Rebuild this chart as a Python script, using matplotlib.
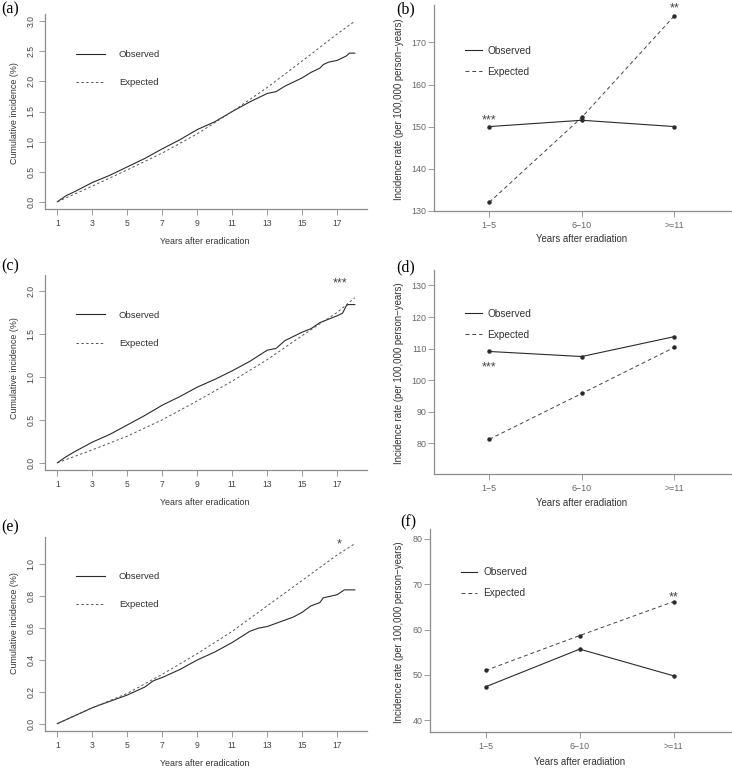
import matplotlib.pyplot as plt
from matplotlib.ticker import FormatStrFormatter

plt.rcParams['font.family'] = ['Liberation Sans', 'DejaVu Sans']

# Cumulative incidence (%), panel (a)
a_obs_years = [1, 1.5, 2, 3, 4, 5, 6, 7, 8, 9, 10, 11, 12, 13, 13.5, 14, 15, 15.5, 16, 16.2, 16.5, 17, 17.5, 17.7, 18]
a_obs = [0, 0.10, 0.17, 0.32, 0.44, 0.58, 0.72, 0.88, 1.03, 1.20, 1.33, 1.50, 1.66, 1.80, 1.83, 1.92, 2.06, 2.15, 2.22, 2.28, 2.32, 2.35, 2.42, 2.47, 2.47]
a_exp_years = [1, 3, 5, 7, 9, 11, 13, 15, 17, 18]
a_exp = [0, 0.26, 0.53, 0.81, 1.13, 1.50, 1.90, 2.34, 2.79, 3.00]

# panel (c)
c_obs_years = [1, 1.5, 2, 3, 4, 5, 6, 7, 8, 9, 10, 11, 12, 13, 13.5, 14, 15, 15.5, 16, 16.5, 17, 17.3, 17.5, 17.6, 18]
c_obs = [0, 0.07, 0.13, 0.24, 0.33, 0.44, 0.55, 0.67, 0.77, 0.88, 0.97, 1.07, 1.18, 1.31, 1.33, 1.42, 1.52, 1.56, 1.63, 1.67, 1.71, 1.74, 1.82, 1.84, 1.84]
c_exp_years = [1, 3, 5, 7, 9, 11, 13, 15, 17, 18]
c_exp = [0, 0.15, 0.31, 0.50, 0.72, 0.95, 1.20, 1.48, 1.75, 1.92]

# panel (e)
e_obs_years = [1, 2, 3, 4, 5, 6, 6.5, 7, 8, 9, 10, 11, 12, 12.5, 13, 14, 14.5, 15, 15.5, 16, 16.2, 16.6, 17, 17.4, 18]
e_obs = [0, 0.05, 0.10, 0.14, 0.18, 0.23, 0.27, 0.29, 0.34, 0.40, 0.45, 0.51, 0.58, 0.60, 0.61, 0.65, 0.67, 0.70, 0.74, 0.76, 0.79, 0.80, 0.81, 0.84, 0.84]
e_exp_years = [1, 3, 5, 7, 9, 11, 13, 15, 17, 18]
e_exp = [0, 0.10, 0.19, 0.31, 0.44, 0.58, 0.74, 0.90, 1.06, 1.13]

# Incidence rate per 100,000 person-years, panels (b), (d), (f)
periods = ['1\u22125', '6\u221210', '>=11']
b_obs = [150.0, 151.5, 150.0]
b_exp = [132.0, 152.2, 176.3]
d_obs = [109.1, 107.5, 113.8]
d_exp = [81.3, 95.8, 110.4]
f_obs = [47.4, 55.7, 49.8]
f_exp = [51.0, 58.7, 66.2]

W, H = 732, 769
fig = plt.figure(figsize=(W / 100, H / 100), dpi=100)

AXC = '#8c8c8c'
TXT = '#333333'


def fx(px):
    return px / W


def fy(py):
    return 1 - py / H


def add_panel(left, top, right, bottom):
    ax = fig.add_axes([fx(left), fy(bottom), (right - left) / W, (bottom - top) / H])
    for s in ['top', 'right']:
        ax.spines[s].set_visible(False)
    for s in ['left', 'bottom']:
        ax.spines[s].set_color(AXC)
        ax.spines[s].set_linewidth(0.9)
    ax.patch.set_alpha(0)
    return ax


def cum_panel(box, letter, obs_x, obs_y, exp_x, exp_y, ylim, yticks,
              leg_top, star, star_xy, ylab_y, xlab_y):
    l, t, r, b = box
    ax = add_panel(l, t, r, b)
    ax.plot(obs_x, obs_y, color='#2b2b2b', lw=0.8, label='Observed')
    ax.plot(exp_x, exp_y, color='#555555', lw=0.7, ls=(0, (2.5, 2.5)), label='Expected')
    ax.set_xlim(0.32, 18.68)
    ax.set_ylim(*ylim)
    ax.set_xticks(range(1, 18, 2))
    ax.set_yticks(yticks)
    ax.yaxis.set_major_formatter(FormatStrFormatter('%.1f'))
    ax.tick_params(direction='out', length=4, width=0.6, color=AXC,
                   labelsize=6.2, labelcolor='#444444')
    ax.tick_params(axis='x', pad=3.0)
    ax.tick_params(axis='y', pad=3.0)
    for lab in ax.get_yticklabels():
        lab.set_rotation(90)
        lab.set_va('center')
    ax.set_xlabel('Years after eradication', fontsize=6.4, color=TXT, va='center')
    ax.set_ylabel('Cumulative incidence (%)', fontsize=6.4, color=TXT, va='center')
    ax.xaxis.set_label_coords(fx(205), fy(xlab_y), transform=fig.transFigure)
    ax.yaxis.set_label_coords(fx(14.3), fy(ylab_y), transform=fig.transFigure)
    ax.legend(loc='upper left', bbox_to_anchor=(fx(76), fy(leg_top)),
              bbox_transform=fig.transFigure, frameon=False, fontsize=6.8,
              handlelength=3.07, handletextpad=1.48, labelspacing=2.05,
              borderpad=0, borderaxespad=0, labelcolor=TXT)
    if star:
        ax.text(star_xy[0], star_xy[1], star, fontsize=9, color='#444444',
                ha='center', va='baseline', clip_on=False)
    fig.text(fx(1.5), fy(letter[1]), letter[0], family='Liberation Serif',
             fontsize=11.5, ha='left', va='center')
    return ax


def rate_panel(box, letter, obs, exp, ylim, yticks, xlim, leg_x, leg_top,
               stars, ylab_y, xlab):
    l, t, r, b = box
    ax = add_panel(l, t, r, b)
    x = [1, 2, 3]
    ax.plot(x, obs, color='#2b2b2b', lw=0.8, label='Observed')
    ax.plot(x, exp, color='#444444', lw=0.7, ls=(0, (4, 3)), label='Expected')
    ax.plot(x, obs, ls='none', marker='o', ms=2.2, color='#2b2b2b')
    ax.plot(x, exp, ls='none', marker='o', ms=2.2, color='#2b2b2b')
    ax.set_xlim(*xlim)
    ax.set_ylim(*ylim)
    ax.set_xticks(x)
    ax.set_xticklabels(periods)
    ax.set_yticks(yticks)
    ax.tick_params(direction='out', length=4, width=0.6, color=AXC,
                   labelsize=6.4, labelcolor='#666666')
    ax.tick_params(axis='x', pad=3.2)
    ax.tick_params(axis='y', pad=1.5)
    ax.set_xlabel('Years after eradiation', fontsize=6.9, color=TXT, va='center')
    ax.set_ylabel('Incidence rate (per 100,000 person\u2212years)', fontsize=6.9,
                  color=TXT, va='center')
    ax.xaxis.set_label_coords(fx(xlab[0]), fy(xlab[1]), transform=fig.transFigure)
    ax.yaxis.set_label_coords(fx(399.3), fy(ylab_y), transform=fig.transFigure)
    ax.legend(loc='upper left', bbox_to_anchor=(fx(leg_x), fy(leg_top)),
              bbox_transform=fig.transFigure, frameon=False, fontsize=7.3,
              handlelength=1.65, handletextpad=0.55, labelspacing=1.08,
              borderpad=0, borderaxespad=0, labelcolor=TXT)
    for s, sx, sy in stars:
        ax.text(sx, sy, s, fontsize=9, color='#444444', ha='center',
                va='baseline', clip_on=False)
    fig.text(fx(letter[1]), fy(letter[2]), letter[0], family='Liberation Serif',
             fontsize=11.5, ha='left', va='center')
    return ax


cum_panel((45.4, 14, 366.7, 209), ('(a)', 9), a_obs_years, a_obs, a_exp_years, a_exp,
          (-0.12, 3.12), [0, 0.5, 1.0, 1.5, 2.0, 2.5, 3.0], 50.0, None, None, 113, 242)
cum_panel((45.4, 275, 366.7, 470), ('(c)', 266), c_obs_years, c_obs, c_exp_years, c_exp,
          (-0.084, 2.184), [0, 0.5, 1.0, 1.5, 2.0], 310.5, '***', (17.15, 2.05), 368, 502.3)
cum_panel((45.4, 537, 366.7, 731), ('(e)', 527.5), e_obs_years, e_obs, e_exp_years, e_exp,
          (-0.046, 1.172), [0, 0.2, 0.4, 0.6, 0.8, 1.0], 572.0, '*', (17.11, 1.105), 623, 763.3)

rate_panel((434.3, 5, 732, 210.7), ('(b)', 396.7, 9.7), b_obs, b_exp, (130, 178.9),
           [130, 140, 150, 160, 170], (0.405, 3.624), 465, 45.7,
           [('***', 1, 150.8), ('**', 3, 177.4)], 109, (581.7, 239.3))
rate_panel((434.3, 270, 732, 474), ('(d)', 396.7, 267), d_obs, d_exp, (70.3, 134.9),
           [80, 90, 100, 110, 120, 130], (0.405, 3.624), 465, 308.7,
           [('***', 1, 103.0)], 373, (581.7, 503.3))
rate_panel((430, 529, 732, 732.3), ('(f)', 400.7, 522.5), f_obs, f_exp, (37.35, 82.2),
           [40, 50, 60, 70, 80], (0.407, 3.62), 460.7, 567.2,
           [('**', 3, 66.4)], 631.7, (580, 762.3))

fig.savefig('out.png', dpi=100)
